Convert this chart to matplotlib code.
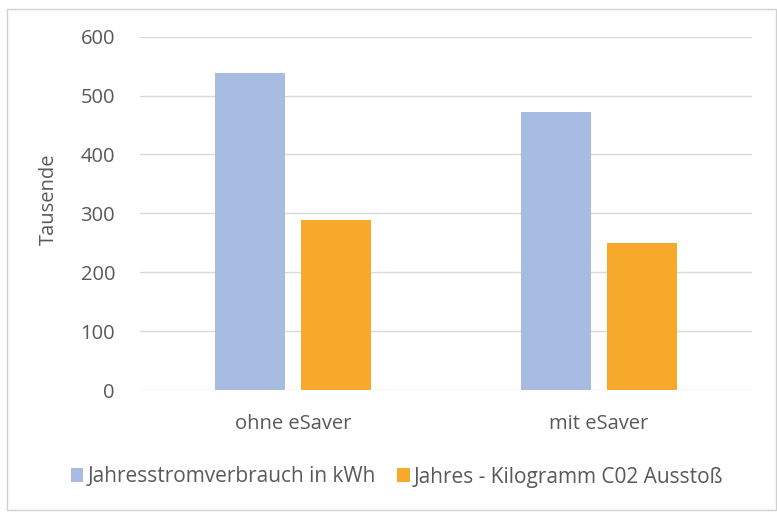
import matplotlib
matplotlib.use("Agg")
import matplotlib.pyplot as plt
from matplotlib.patches import Rectangle, Patch
import numpy as np

plt.rcParams['font.family'] = ['Open Sans', 'DejaVu Sans']

categories = ["ohne eSaver", "mit eSaver"]
series_names = ["Jahresstromverbrauch in kWh", "Jahres - Kilogramm C02 Ausstoß"]
strom_values = [538, 472]
co2_values = [288, 250]
y_ticks = [0, 100, 200, 300, 400, 500, 600]
y_label = "Tausende"

blue = "#a8bbe0"
orange = "#f6a92a"
text_col = "#595959"
grid_col = "#d9d9d9"

W, H = 777, 512
fig = plt.figure(figsize=(W / 100, H / 100), dpi=100)
fig.patch.set_facecolor("white")

# outer chart border
fig.add_artist(Rectangle((7 / W, 1 - 510 / H), (776 - 7) / W, (510 - 9) / H,
                         transform=fig.transFigure, fill=False,
                         edgecolor="#d0d0d0", linewidth=1.0))

left, right, top, bottom = 140, 752, 36.7, 390
ax = fig.add_axes([left / W, 1 - bottom / H, (right - left) / W, (bottom - top) / H])

x = np.arange(len(categories))
width = 0.23
off = 0.141
ax.bar(x - off, strom_values, width, color=blue, zorder=3, label=series_names[0])
ax.bar(x + off, co2_values, width, color=orange, zorder=3, label=series_names[1])

ax.set_xlim(-0.5, 1.5)
ax.set_ylim(0, 600)
ax.set_yticks(y_ticks)
ax.set_yticklabels([str(v) for v in y_ticks])
ax.set_xticks(x)
ax.set_xticklabels(categories)
ax.yaxis.grid(True, color=grid_col, linewidth=1.0, zorder=0)
ax.set_axisbelow(True)
for s in ax.spines.values():
    s.set_visible(False)
ax.tick_params(axis="y", length=0, labelsize=14.5, colors=text_col, pad=18)
ax.tick_params(axis="x", length=0, labelsize=14.5, colors=text_col, pad=17)
ax.set_ylabel(y_label, fontsize=14.5, color=text_col)
ax.yaxis.set_label_coords(-0.132, 0.54)

handles = [Patch(facecolor=blue, label=series_names[0]),
           Patch(facecolor=orange, label=series_names[1])]
fig.legend(handles=handles, loc="center", bbox_to_anchor=(397 / W, 1 - 477 / H),
           ncol=2, frameon=False, fontsize=15, labelcolor=text_col,
           handlelength=0.62, handleheight=0.62, handletextpad=0.2, columnspacing=1.0)

fig.savefig("out.png", dpi=100, facecolor="white")
